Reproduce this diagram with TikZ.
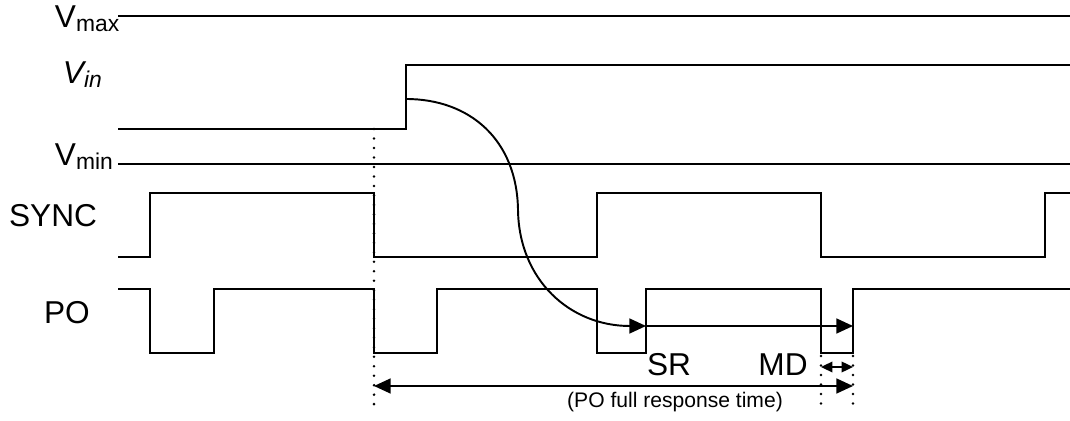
\documentclass[tikz,border=0pt]{standalone}
\usepackage{fontspec}
\setmainfont{Liberation Sans}
\usetikzlibrary{arrows.meta}

\tikzset{
  wave/.style={line width=1.1pt},
  dotline/.style={line width=1.6pt,line cap=round,dash pattern=on 0pt off 5.4pt},
  lbl/.style={font=\fontsize{18}{22}\selectfont,inner sep=0pt},
  small/.style={font=\fontsize{12}{14}\selectfont,inner sep=0pt},
  bigtip/.style={-{Triangle[length=9.5pt,width=8.5pt]}},
  twotip/.style={{Triangle[length=9.5pt,width=8.5pt]}-{Triangle[length=9.5pt,width=8.5pt]}},
  mdtip/.style={{Triangle[length=6.5pt,width=6pt]}-{Triangle[length=6.5pt,width=6pt]}}
}

\begin{document}
\begin{tikzpicture}[x=0.02cm,y=-0.02cm,line width=1.1pt]
\useasboundingbox (0,0) rectangle (1070,421);

\node[lbl,anchor=base west] (vmax) at (54,28) {V\lower2pt\hbox{\fontsize{13}{15}\selectfont max}};
\node[lbl,anchor=base west] (vin) at (62,84) {\itshape V\lower2pt\hbox{\fontsize{13}{15}\selectfont in}};
\node[lbl,anchor=base west] (vmin) at (54,166) {V\lower2pt\hbox{\fontsize{13}{15}\selectfont min}};
\node[lbl] (sync) at (53,216) {SYNC};
\node[lbl] (po) at (67,313) {PO};

\draw[wave] (118,16) -- (1070,16);
\draw[wave] (118,129) -- (406,129) -- (406,65) -- (1070,65);
\draw[wave] (118,164) -- (1070,164);
\draw[wave] (118,257) -- (150,257) -- (150,193) -- (374,193) -- (374,257)
  -- (597,257) -- (597,193) -- (821,193) -- (821,257) -- (1045,257)
  -- (1045,193) -- (1070,193);
\draw[wave] (118,289) -- (150,289) -- (150,353) -- (214,353) -- (214,289)
  -- (374,289) -- (374,353) -- (437,353) -- (437,289) -- (597,289)
  -- (597,353) -- (646,353) -- (646,289) -- (821,289) -- (821,353)
  -- (853,353) -- (853,289) -- (1070,289);

\draw[dotline] (374,129) -- (374,411);
\draw[dotline] (821,356) -- (821,411);
\draw[dotline] (853,356) -- (853,411);

\coordinate (vinstep) at (406,99);
\coordinate (srstart) at (646,326);
\coordinate (srend) at (853,326);
\coordinate (mdstart) at (821,367);
\coordinate (mdend) at (853,367);
\coordinate (rtstart) at (374,386);
\coordinate (rtend) at (853,386);

\draw[bigtip] (vinstep) .. controls (470,99) and (517,140) .. (518,210)
  .. controls (519,280) and (570,326) .. (srstart);
\draw[bigtip] (srstart) -- (srend);
\draw[mdtip] (mdstart) -- (mdend);
\draw[twotip] (rtstart) -- (rtend);

\node[lbl] (sr) at (669,365) {SR};
\node[lbl] (md) at (783,365) {MD};
\node[small,anchor=base] (rt) at (675,408) {(PO full response time)};
\end{tikzpicture}
\end{document}
